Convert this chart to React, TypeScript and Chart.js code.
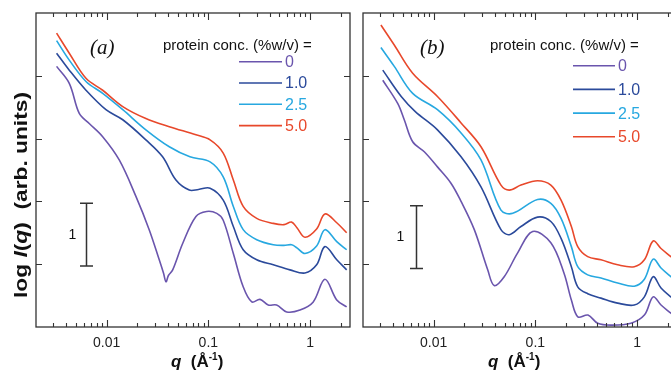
import React, { useEffect, useRef } from 'react';
import { Chart, registerables } from 'chart.js';

Chart.register(...registerables);

// ---------- series meta ----------
const seriesLabels = ['0', '1.0', '2.5', '5.0'];
const seriesColors = ['#6a55ad', '#2b4a9b', '#27a8e0', '#e8482b'];
const legendHeader = 'protein conc. (%w/v) =';

// ---------- panel (a): q (Å^-1) and log I(q) ----------
const qA0 = [0.00322, 0.00429, 0.00538, 0.00674, 0.00914, 0.0133, 0.0194, 0.0262, 0.0329, 0.0362, 0.0383, 0.0405, 0.0446, 0.0559, 0.0755, 0.0962, 0.121, 0.140, 0.176, 0.220, 0.267, 0.322, 0.388, 0.469, 0.589, 0.796, 1.075, 1.40, 1.83, 2.29];
const logIA0 = [4.15, 3.88, 3.40, 3.24, 3.03, 2.66, 2.08, 1.55, 1.07, 0.86, 0.72, 0.82, 0.91, 1.33, 1.76, 1.84, 1.81, 1.70, 1.17, 0.64, 0.40, 0.44, 0.35, 0.35, 0.24, 0.27, 0.40, 0.76, 0.43, 0.32];

const qA1 = [0.00322, 0.00429, 0.00626, 0.00984, 0.0144, 0.0243, 0.0355, 0.0480, 0.0649, 0.0800, 0.104, 0.140, 0.176, 0.220, 0.299, 0.435, 0.634, 0.891, 1.16, 1.40, 1.83, 2.29];
const logIA1 = [4.36, 4.09, 3.77, 3.46, 3.30, 2.98, 2.71, 2.34, 2.18, 2.19, 2.21, 2.02, 1.60, 1.23, 1.07, 0.99, 0.91, 0.86, 0.99, 1.28, 1.07, 0.91];

const qA25 = [0.00322, 0.00429, 0.00626, 0.00914, 0.0144, 0.0243, 0.0413, 0.0659, 0.104, 0.140, 0.176, 0.220, 0.299, 0.435, 0.554, 0.659, 0.743, 0.891, 1.16, 1.40, 1.83, 2.29];
const logIA25 = [4.56, 4.25, 3.91, 3.72, 3.46, 3.14, 2.87, 2.71, 2.63, 2.39, 1.92, 1.55, 1.39, 1.31, 1.30, 1.31, 1.26, 1.17, 1.29, 1.55, 1.36, 1.23];

const qA5 = [0.00322, 0.00429, 0.00626, 0.00914, 0.0144, 0.0243, 0.0413, 0.0755, 0.104, 0.140, 0.176, 0.220, 0.299, 0.435, 0.554, 0.659, 0.743, 0.891, 1.16, 1.40, 1.83, 2.29];
const logIA5 = [4.68, 4.36, 3.96, 3.77, 3.51, 3.32, 3.19, 3.06, 2.98, 2.77, 2.34, 1.92, 1.73, 1.65, 1.63, 1.67, 1.58, 1.43, 1.56, 1.80, 1.66, 1.50];

// ---------- panel (b) ----------
const qB0 = [0.00316, 0.00443, 0.00514, 0.00622, 0.00809, 0.0109, 0.0148, 0.0186, 0.0251, 0.0340, 0.0394, 0.0494, 0.0670, 0.0941, 0.142, 0.191, 0.226, 0.262, 0.329, 0.410, 0.554, 0.871, 1.18, 1.44, 1.72, 2.15, 2.47];
const logIB0 = [3.93, 3.56, 3.30, 2.95, 2.79, 2.55, 2.29, 2.00, 1.55, 0.91, 0.66, 0.80, 1.18, 1.52, 1.34, 0.86, 0.43, 0.16, 0.19, 0.06, 0.03, 0.06, 0.19, 0.48, 0.35, 0.22, 0.14];

const qB1 = [0.00316, 0.00480, 0.00660, 0.0109, 0.0186, 0.0292, 0.0459, 0.0554, 0.0722, 0.105, 0.142, 0.179, 0.226, 0.261, 0.327, 0.442, 0.645, 0.939, 1.18, 1.44, 1.72, 2.15, 2.47];
const logIB1 = [4.09, 3.67, 3.43, 3.14, 2.71, 2.23, 1.55, 1.47, 1.60, 1.75, 1.68, 1.41, 0.96, 0.64, 0.53, 0.46, 0.38, 0.35, 0.48, 0.80, 0.62, 0.48, 0.42];

const qB25 = [0.00303, 0.00410, 0.00622, 0.0109, 0.0186, 0.0292, 0.0459, 0.0600, 0.105, 0.142, 0.179, 0.226, 0.261, 0.327, 0.442, 0.645, 0.939, 1.18, 1.44, 1.72, 2.15, 2.47];
const logIB25 = [4.45, 4.15, 3.72, 3.46, 3.09, 2.66, 1.86, 1.81, 2.03, 1.97, 1.73, 1.28, 0.96, 0.83, 0.78, 0.70, 0.65, 0.76, 1.08, 0.94, 0.80, 0.72];

const qB5 = [0.00303, 0.00410, 0.00622, 0.0109, 0.0186, 0.0292, 0.0459, 0.0554, 0.0722, 0.105, 0.142, 0.179, 0.226, 0.261, 0.327, 0.442, 0.645, 0.939, 1.18, 1.44, 1.72, 2.15, 2.47];
const logIB5 = [4.81, 4.49, 4.04, 3.67, 3.25, 2.87, 2.26, 2.18, 2.26, 2.33, 2.26, 2.02, 1.60, 1.28, 1.12, 1.07, 0.99, 0.96, 1.07, 1.37, 1.25, 1.12, 1.04];

// ---------- axes ----------
const xMin = 0.00202;
const xMax = 2.47;
const yMin = 0;
const yMax = 5;
const xTickValues = [0.01, 0.1, 1];
const xTickLabels = ['0.01', '0.1', '1'];
const yTickValues = [1, 2, 3, 4];

const SANS = '"Liberation Sans", Arial, Helvetica, sans-serif';
const SERIF = '"Liberation Serif", "Times New Roman", serif';

type PanelCfg = {
  tag: string;
  series: number[][][];
  showYTitle: boolean;
  tagDx: number;
  headerDx: number;
  legY0: number;
  legGap: number;
  lineX0: number;
  lineX1: number;
  labelX: number;
  barQ: number;
  barY0: number;
  barLabelDx: number;
  xTitleDx: number;
};

const panelA: PanelCfg = {
  tag: '(a)',
  series: [[qA0, logIA0], [qA1, logIA1], [qA25, logIA25], [qA5, logIA5]],
  showYTitle: true,
  tagDx: 54,
  headerDx: 127,
  legY0: 48.7,
  legGap: 21.3,
  lineX0: 203,
  lineX1: 246,
  labelX: 249,
  barQ: 0.00626,
  barY0: 0.97,
  barLabelDx: 14,
  xTitleDx: 135,
};

const panelB: PanelCfg = {
  tag: '(b)',
  series: [[qB0, logIB0], [qB1, logIB1], [qB25, logIB25], [qB5, logIB5]],
  showYTitle: false,
  tagDx: 57,
  headerDx: 127,
  legY0: 52.7,
  legGap: 23.7,
  lineX0: 210,
  lineX1: 252,
  labelX: 255,
  barQ: 0.0067,
  barY0: 0.93,
  barLabelDx: 16,
  xTitleDx: 125,
};

type Seg = { t: string; f: string; dy?: number };

function drawSegs(ctx: CanvasRenderingContext2D, segs: Seg[], x: number, y: number) {
  let cx = x;
  for (const s of segs) {
    ctx.font = s.f;
    ctx.fillText(s.t, cx, y + (s.dy || 0));
    cx += ctx.measureText(s.t).width;
  }
  return cx - x;
}

function segsWidth(ctx: CanvasRenderingContext2D, segs: Seg[]) {
  let w = 0;
  for (const s of segs) {
    ctx.font = s.f;
    w += ctx.measureText(s.t).width;
  }
  return w;
}

function makeDecor(cfg: PanelCfg) {
  return {
    id: 'decor',
    afterDatasetsDraw(chart: any) {
      const ctx: CanvasRenderingContext2D = chart.ctx;
      const { left, right, top, bottom } = chart.chartArea;
      const xs = chart.scales.x;
      const ys = chart.scales.y;
      ctx.save();
      // frame
      ctx.strokeStyle = '#333';
      ctx.lineWidth = 1.3;
      ctx.strokeRect(left, top, right - left, bottom - top);
      // x ticks (major + minor, inward, top and bottom)
      ctx.lineWidth = 1.1;
      ctx.beginPath();
      for (let e = -3; e <= 0; e++) {
        for (let m = 1; m <= 9; m++) {
          const v = m * Math.pow(10, e);
          if (v < xMin || v > xMax) continue;
          const px = Math.round(xs.getPixelForValue(v)) + 0.5;
          const len = m === 1 ? 7 : 4;
          ctx.moveTo(px, bottom);
          ctx.lineTo(px, bottom - len);
          ctx.moveTo(px, top);
          ctx.lineTo(px, top + len);
        }
      }
      for (const v of yTickValues) {
        const py = Math.round(ys.getPixelForValue(v)) + 0.5;
        ctx.moveTo(left, py);
        ctx.lineTo(left + 6, py);
        ctx.moveTo(right - 6, py);
        ctx.lineTo(right, py);
      }
      ctx.stroke();

      // panel tag
      ctx.fillStyle = '#111';
      ctx.textBaseline = 'middle';
      ctx.textAlign = 'left';
      ctx.font = `italic 21px ${SERIF}`;
      ctx.fillText(cfg.tag, left + cfg.tagDx, top + 35);

      // legend
      ctx.font = `15px ${SANS}`;
      ctx.fillStyle = '#111';
      ctx.fillText(legendHeader, left + cfg.headerDx, top + 33);
      for (let i = 0; i < seriesLabels.length; i++) {
        const y = top + cfg.legY0 + i * cfg.legGap;
        ctx.strokeStyle = seriesColors[i];
        ctx.lineWidth = 1.6;
        ctx.beginPath();
        ctx.moveTo(left + cfg.lineX0, y);
        ctx.lineTo(left + cfg.lineX1, y);
        ctx.stroke();
        ctx.fillStyle = seriesColors[i];
        ctx.font = `16px ${SANS}`;
        ctx.fillText(seriesLabels[i], left + cfg.labelX, y + 1);
      }

      // scale bar (one decade)
      const bx = Math.round(xs.getPixelForValue(cfg.barQ)) + 0.5;
      const by0 = ys.getPixelForValue(cfg.barY0);
      const by1 = ys.getPixelForValue(cfg.barY0 + 1);
      ctx.strokeStyle = '#333';
      ctx.lineWidth = 1.5;
      ctx.beginPath();
      ctx.moveTo(bx, by0);
      ctx.lineTo(bx, by1);
      ctx.moveTo(bx - 6.5, by0);
      ctx.lineTo(bx + 6.5, by0);
      ctx.moveTo(bx - 6.5, by1);
      ctx.lineTo(bx + 6.5, by1);
      ctx.stroke();
      ctx.fillStyle = '#111';
      ctx.textAlign = 'center';
      ctx.font = `14px ${SANS}`;
      ctx.fillText('1', bx - cfg.barLabelDx, (by0 + by1) / 2);

      // x title
      ctx.textAlign = 'left';
      ctx.textBaseline = 'alphabetic';
      ctx.fillStyle = '#111';
      drawSegs(
        ctx,
        [
          { t: 'q', f: `italic bold 17px ${SANS}` },
          { t: '  (Å', f: `bold 17px ${SANS}` },
          { t: '-1', f: `bold 10px ${SANS}`, dy: -7 },
          { t: ')', f: `bold 17px ${SANS}` },
        ],
        left + cfg.xTitleDx,
        367
      );

      // y title
      if (cfg.showYTitle) {
        const segs: Seg[] = [
          { t: 'log ', f: `bold 18px ${SANS}` },
          { t: 'I', f: `italic bold 18px ${SANS}` },
          { t: '(', f: `bold 18px ${SANS}` },
          { t: 'q', f: `italic bold 18px ${SANS}` },
          { t: ')', f: `bold 18px ${SANS}` },
          { t: '  (arb. units)', f: `bold 18px ${SANS}` },
        ];
        const w = segsWidth(ctx, segs);
        const target = 206;
        ctx.save();
        ctx.translate(27, 298);
        ctx.rotate(-Math.PI / 2);
        ctx.scale(target / w, 1);
        ctx.textBaseline = 'alphabetic';
        drawSegs(ctx, segs, 0, 0);
        ctx.restore();
      }
      ctx.restore();
    },
  };
}

function Panel({ cfg, left, width, padLeft, padRight }: { cfg: PanelCfg; left: number; width: number; padLeft: number; padRight: number }) {
  const ref = useRef<HTMLCanvasElement | null>(null);
  useEffect(() => {
    if (!ref.current) return;
    const datasets = cfg.series.map(([qs, vals], i) => ({
      label: seriesLabels[i],
      data: qs.map((q, j) => ({ x: q, y: vals[j] })),
      borderColor: seriesColors[i],
      borderWidth: 1.6,
      pointRadius: 0,
      fill: false,
      tension: 0.35,
    }));
    const chart = new Chart(ref.current, {
      type: 'line',
      data: { datasets },
      options: {
        animation: false,
        responsive: false,
        events: [],
        layout: { padding: { left: padLeft, right: padRight, top: 13, bottom: 0 } },
        plugins: { legend: { display: false }, tooltip: { enabled: false } },
        scales: {
          x: {
            type: 'logarithmic',
            min: xMin,
            max: xMax,
            grid: { display: false, drawTicks: false },
            border: { display: false },
            afterBuildTicks: (s: any) => {
              s.ticks = xTickValues.map((v) => ({ value: v }));
            },
            afterFit: (s: any) => {
              s.height = 49;
            },
            ticks: {
              autoSkip: false,
              maxRotation: 0,
              padding: 8,
              color: '#222',
              font: { family: SANS, size: 14 },
              callback: (v: any) => {
                const idx = xTickValues.findIndex((t) => Math.abs(t - Number(v)) < 1e-9);
                return idx >= 0 ? xTickLabels[idx] : '';
              },
            },
          },
          y: {
            type: 'linear',
            min: yMin,
            max: yMax,
            display: false,
          },
        },
      },
      plugins: [makeDecor(cfg)],
    });
    return () => chart.destroy();
  }, []);
  return (
    <div style={{ position: 'absolute', left, top: 0, width, height: 376 }}>
      <canvas ref={ref} width={width} height={376} style={{ display: 'block' }} />
    </div>
  );
}

export default function App() {
  return (
    <div
      style={{
        position: 'fixed',
        left: 0,
        top: 0,
        width: 671,
        height: 376,
        overflow: 'hidden',
        background: '#fff',
      }}
    >
      <Panel cfg={panelA} left={0} width={360} padLeft={36} padRight={10} />
      <Panel cfg={panelB} left={356} width={330} padLeft={7} padRight={9} />
    </div>
  );
}
